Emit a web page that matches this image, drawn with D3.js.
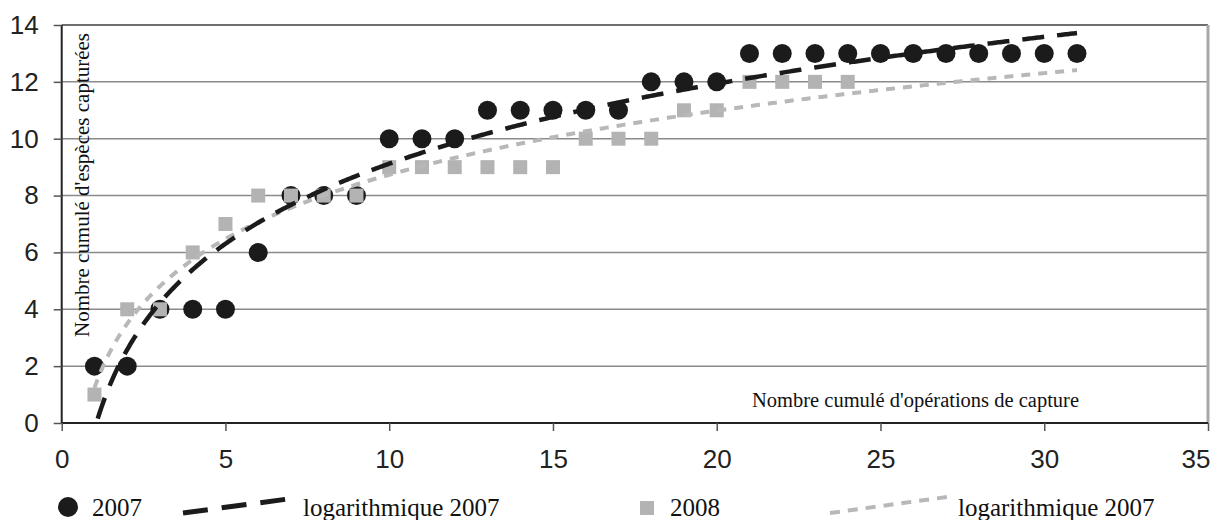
<!DOCTYPE html>
<html>
<head>
<meta charset="utf-8">
<script src="https://cdn.jsdelivr.net/npm/d3@7"></script>
<style>
  body { margin: 0; background: #fff; }
  svg { display: block; }
</style>
</head>
<body>
<svg id="chart" width="1218" height="520"></svg>
<script>
// valeurs
const operations2007 = d3.range(1, 32);
const especes2007 = [2, 2, 4, 4, 4, 6, 8, 8, 8, 10, 10, 10, 11, 11, 11, 11, 11, 12, 12, 12,
  13, 13, 13, 13, 13, 13, 13, 13, 13, 13, 13];
const operations2008 = d3.range(1, 25);
const especes2008 = [1, 4, 4, 6, 7, 8, 8, 8, 8, 9, 9, 9, 9, 9, 9, 10, 10, 10, 11, 11, 12, 12, 12, 12];
const xTicks = [0, 5, 10, 15, 20, 25, 30, 35];
const yTicks = [0, 2, 4, 6, 8, 10, 12, 14];
const legendLabels = ["2007", "logarithmique 2007", "2008", "logarithmique 2007"];

const noir = "#1b1b1b";
const gris = "#b3b3b3";

const svg = d3.select("#chart");
const x = d3.scaleLinear().domain([0, 35]).range([61.7, 1208]);
const y = d3.scaleLinear().domain([0, 14]).range([423, 25]);

// regression y = a*ln(x) + b, comme la courbe de tendance Excel
function logFit(xs, ys) {
  const lx = xs.map((v) => Math.log(v));
  const mx = d3.mean(lx);
  const my = d3.mean(ys);
  let sxy = 0;
  let sxx = 0;
  lx.forEach((v, i) => {
    sxy += (v - mx) * (ys[i] - my);
    sxx += (v - mx) * (v - mx);
  });
  const a = sxy / sxx;
  return { a: a, b: my - a * mx };
}

const grid = svg.append("g").attr("id", "grid-layer");
grid
  .selectAll("line.grid")
  .data(yTicks.filter((t) => t > 0 && t < 14))
  .enter()
  .append("line")
  .attr("class", "grid")
  .attr("x1", x(0))
  .attr("x2", x(35))
  .attr("y1", (d) => y(d))
  .attr("y2", (d) => y(d))
  .attr("stroke", "#8a8a8a")
  .attr("stroke-width", 1.5);

grid
  .append("line")
  .attr("x1", x(0))
  .attr("x2", x(35))
  .attr("y1", y(14))
  .attr("y2", y(14))
  .attr("stroke", "#6e6e6e")
  .attr("stroke-width", 2);

grid
  .append("line")
  .attr("x1", x(35))
  .attr("x2", x(35))
  .attr("y1", y(14))
  .attr("y2", y(0))
  .attr("stroke", "#a8a8a8")
  .attr("stroke-width", 3);

// axes
const yAxis = d3.axisLeft(y).tickValues(yTicks).tickSize(8).tickPadding(15);
const xAxis = d3.axisBottom(x).tickValues(xTicks).tickSize(8).tickPadding(19);

const gy = svg.append("g").attr("transform", `translate(${x(0)},0)`).call(yAxis);
const gx = svg.append("g").attr("transform", `translate(0,${y(0)})`).call(xAxis);

[gx, gy].forEach((g) => {
  g.select(".domain").attr("stroke", "#222").attr("stroke-width", 2);
  g.selectAll(".tick line").attr("stroke", "#555").attr("stroke-width", 1.5);
  g.selectAll(".tick text")
    .attr("fill", "#222")
    .style("font-family", "'Liberation Sans', Arial, sans-serif")
    .style("font-size", "26px");
});
gx.select(".domain").attr("d", `M${x(0)},0H${x(35)}`);
gy.select(".domain").attr("d", `M0,${y(0)}V${y(14)}`);
// le dernier libelle reste dans le cadre
gx.selectAll(".tick text")
  .filter((d) => d === 35)
  .attr("text-anchor", "end")
  .attr("dx", 2);

// titres des axes
svg
  .append("text")
  .attr("transform", `translate(89,${(y(14) + y(0)) / 2 - 39}) rotate(-90)`)
  .attr("text-anchor", "middle")
  .style("font-family", "'Liberation Serif', 'Times New Roman', serif")
  .style("font-size", "21px")
  .attr("fill", "#111")
  .text("Nombre cumulé d'espèces capturées");

svg
  .append("text")
  .attr("x", 752)
  .attr("y", 407)
  .style("font-family", "'Liberation Serif', 'Times New Roman', serif")
  .style("font-size", "20.5px")
  .attr("fill", "#111")
  .text("Nombre cumulé d'opérations de capture");

// points
const pts2007 = operations2007.map((v, i) => ({ x: v, y: especes2007[i] }));
const pts2008 = operations2008.map((v, i) => ({ x: v, y: especes2008[i] }));

const markLayer = svg.append("g").attr("id", "mark-layer");
markLayer
  .selectAll("circle")
  .data(pts2007)
  .enter()
  .append("circle")
  .attr("cx", (d) => x(d.x))
  .attr("cy", (d) => y(d.y))
  .attr("r", 9.5)
  .attr("fill", noir);

markLayer
  .selectAll("rect")
  .data(pts2008)
  .enter()
  .append("rect")
  .attr("x", (d) => x(d.x) - 7)
  .attr("y", (d) => y(d.y) - 7)
  .attr("width", 14)
  .attr("height", 14)
  .attr("fill", gris);

// courbes de tendance
const xMax = d3.max(operations2007.concat(operations2008));
const samples = d3.range(1, xMax + 0.001, 0.05);
const trendLine = d3
  .line()
  .defined((d) => d.y >= 0)
  .x((d) => x(d.x))
  .y((d) => y(d.y));

function drawTrend(fit, color, dash, width) {
  const pts = samples.map((v) => ({ x: v, y: fit.a * Math.log(v) + fit.b }));
  svg
    .append("path")
    .datum(pts)
    .attr("fill", "none")
    .attr("stroke", color)
    .attr("stroke-width", width)
    .attr("stroke-dasharray", dash)
    .attr("d", trendLine);
}

drawTrend(logFit(operations2008, especes2008), "#b8b8b8", "9 8", 4);
drawTrend(logFit(operations2007, especes2007), noir, "22 13", 4.5);

// legende
const legend = svg.append("g").attr("id", "legend-layer");
const legendFont = (sel) =>
  sel
    .style("font-family", "'Liberation Serif', 'Times New Roman', serif")
    .style("font-size", "25px")
    .attr("fill", "#111");

legend.append("circle").attr("cx", 68).attr("cy", 507).attr("r", 10).attr("fill", noir);
legend.append("text").attr("x", 92).attr("y", 516).text(legendLabels[0]).call(legendFont);

legend
  .append("line")
  .attr("x1", 183)
  .attr("y1", 513)
  .attr("x2", 288)
  .attr("y2", 499)
  .attr("stroke", noir)
  .attr("stroke-width", 5)
  .attr("stroke-dasharray", "25 14");
legend.append("text").attr("x", 303).attr("y", 516).text(legendLabels[1]).call(legendFont);

legend.append("rect").attr("x", 640).attr("y", 501).attr("width", 14).attr("height", 14).attr("fill", gris);
legend.append("text").attr("x", 670).attr("y", 516).text(legendLabels[2]).call(legendFont);

legend
  .append("line")
  .attr("x1", 830)
  .attr("y1", 513)
  .attr("x2", 947)
  .attr("y2", 497)
  .attr("stroke", "#b8b8b8")
  .attr("stroke-width", 4)
  .attr("stroke-dasharray", "10 8");
legend.append("text").attr("x", 958).attr("y", 516).text(legendLabels[3]).call(legendFont);
</script>
</body>
</html>
